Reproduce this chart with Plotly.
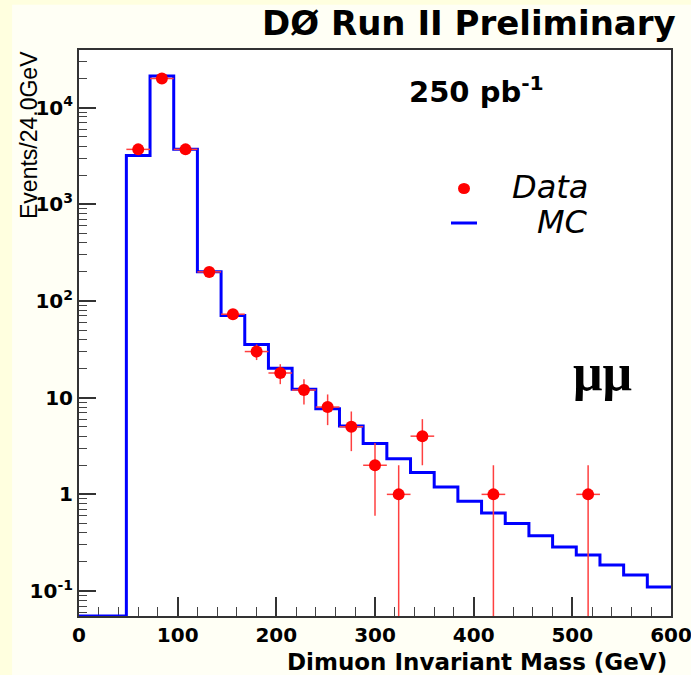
import plotly.graph_objects as go

# ---- data ----
bin_edges = [0, 24, 48, 72, 96, 120, 144, 168, 192, 216, 240, 264, 288, 312,
             336, 360, 384, 408, 432, 456, 480, 504, 528, 552, 576, 600]
mc_counts = [0, 0, 3200, 21200, 3720, 201, 70.7, 35.5, 20.2, 12.2, 7.7, 5.1,
             3.35, 2.34, 1.68, 1.19, 0.85, 0.64, 0.50, 0.374, 0.285, 0.236,
             0.186, 0.147, 0.11]
data_mass = [60, 84, 108, 132, 156, 180, 204, 228, 252, 276, 300, 324, 348, 420, 516]
data_counts = [3700, 20000, 3700, 200, 73, 30, 18, 12, 8, 5, 2, 1, 4, 1, 1]
data_err = [61, 141, 61, 14, 8.5, 5.5, 4.2, 3.5, 2.8, 2.2, 1.4, 1.0, 2.0, 1.0, 1.0]
data_xerr = [12] * len(data_mass)

x_ticks = [0, 100, 200, 300, 400, 500, 600]
y_tickvals = [0.1, 1, 10, 100, 1000, 10000]
y_ticktext = ["10<sup>-1</sup>", "1", "10", "10<sup>2</sup>", "10<sup>3</sup>", "10<sup>4</sup>"]

Y_LOG_MIN, Y_LOG_MAX = -1.258, 4.596
floor_val = 10 ** Y_LOG_MIN

# step histogram
mc_x = bin_edges[:-1] + [bin_edges[-1]]
mc_y = [v if v > 0 else floor_val for v in mc_counts]
mc_y = mc_y + [mc_y[-1]]

fig = go.Figure()
fig.add_trace(go.Scatter(
    x=mc_x, y=mc_y, mode="lines", line=dict(color="#0000FF", width=3, shape="hv"),
    showlegend=False, hoverinfo="skip"))
fig.add_trace(go.Scatter(
    x=data_mass, y=data_counts, mode="markers",
    marker=dict(color="#FF0000", size=12, symbol="circle"),
    error_y=dict(type="data", array=data_err, color="#FF4040", thickness=1.5, width=0),
    error_x=dict(type="data", array=data_xerr, color="#FF4040", thickness=1.5, width=0),
    showlegend=False))

minor_y = []
for d in range(-2, 5):
    for k in range(2, 10):
        minor_y.append(k * 10 ** d)

fig.update_layout(
    width=691, height=675,
    margin=dict(l=79, r=20, t=50, b=59, autoexpand=False),
    paper_bgcolor="#FFFFDF",
    plot_bgcolor="#FFFFFF",
    showlegend=False,
    xaxis=dict(range=[0, 600], tickvals=x_ticks, ticks="inside", ticklen=19,
               tickwidth=1.5, tickcolor="#333", showgrid=False, zeroline=False,
               showline=True, linecolor="#333", linewidth=2, mirror=True,
               ticklabeloverflow="allow", automargin=False,
               tickfont=dict(family="DejaVu Sans", size=20, color="#000", weight="bold"),
               minor=dict(dtick=20, ticks="inside", ticklen=9, tickcolor="#444", tickwidth=1),
               layer="below traces"),
    yaxis=dict(type="log", range=[Y_LOG_MIN, Y_LOG_MAX], tickvals=y_tickvals,
               ticktext=y_ticktext, ticks="inside", ticklen=17, tickwidth=1.5,
               tickcolor="#333", showgrid=False, zeroline=False,
               showline=True, linecolor="#333", linewidth=2, mirror=True,
               ticklabeloverflow="allow", automargin=False,
               tickfont=dict(family="DejaVu Sans", size=20, color="#000", weight="bold"),
               minor=dict(tickvals=minor_y, ticks="inside", ticklen=8, tickcolor="#444", tickwidth=1),
               layer="below traces"),
)

# page background (inner paler area)
fig.add_shape(type="rect", xref="paper", yref="paper", x0=-0.113, x1=1.05, y0=-0.2, y1=1.08,
              fillcolor="#FFFFF5", line=dict(width=0), layer="below")
fig.add_shape(type="rect", xref="paper", yref="paper", x0=0, x1=1, y0=0, y1=1,
              fillcolor="#FFFFFF", line=dict(width=0), layer="below")

def px2x(px):
    return (px - 79) / 592

def py2y(py):
    return (616 - py) / 566

ann = []
ann.append(dict(text="<b>DØ Run II Preliminary</b>", x=px2x(678), y=py2y(23), xref="paper", yref="paper",
                xanchor="right", yanchor="middle", showarrow=False,
                font=dict(family="DejaVu Sans", size=34, color="#000")))
ann.append(dict(text="<b>250 pb<sup>-1</sup></b>", x=px2x(407), y=py2y(90), xref="paper", yref="paper",
                xanchor="left", yanchor="middle", showarrow=False,
                font=dict(family="DejaVu Sans", size=29, color="#000")))
ann.append(dict(text="<i>Data</i>", x=px2x(590), y=py2y(187), xref="paper", yref="paper",
                xanchor="right", yanchor="middle", showarrow=False,
                font=dict(family="DejaVu Sans", size=32, color="#000")))
ann.append(dict(text="<i>MC</i>", x=px2x(590), y=py2y(222), xref="paper", yref="paper",
                xanchor="right", yanchor="middle", showarrow=False,
                font=dict(family="DejaVu Sans", size=32, color="#000")))
ann.append(dict(text="<b>μμ</b>", x=px2x(602), y=py2y(372), xref="paper", yref="paper",
                xanchor="center", yanchor="middle", showarrow=False,
                font=dict(family="Liberation Serif", size=52, color="#000")))
ann.append(dict(text="<b>Dimuon Invariant Mass (GeV)</b>", x=px2x(669), y=py2y(662), xref="paper", yref="paper",
                xanchor="right", yanchor="middle", showarrow=False,
                font=dict(family="DejaVu Sans", size=23, color="#000")))
ann.append(dict(text="Events/24.0GeV", x=px2x(29), y=py2y(135), xref="paper", yref="paper",
                xanchor="center", yanchor="middle", showarrow=False, textangle=-90,
                font=dict(family="Liberation Sans", size=23, color="#000")))
fig.update_layout(annotations=ann)

# legend symbols
fig.add_shape(type="circle", xref="paper", yref="paper",
              x0=px2x(458), x1=px2x(470), y0=py2y(194), y1=py2y(183),
              fillcolor="#FF0000", line=dict(width=0))
fig.add_shape(type="line", xref="paper", yref="paper",
              x0=px2x(451), x1=px2x(477), y0=py2y(223), y1=py2y(223),
              line=dict(color="#0000FF", width=3))

fig.write_html("out.html")
